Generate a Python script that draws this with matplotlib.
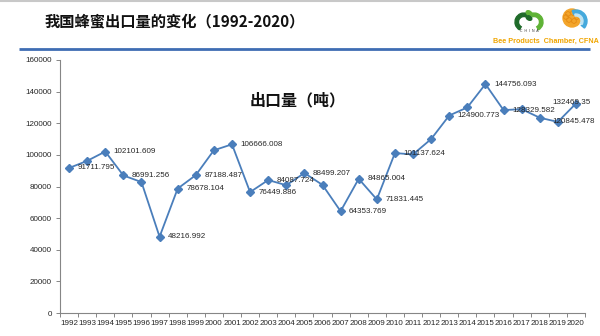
import matplotlib
matplotlib.use("Agg")
import matplotlib.pyplot as plt
from matplotlib.patches import Ellipse, RegularPolygon, Wedge, Circle
import numpy as np

plt.rcParams['font.family'] = ['Liberation Sans', 'Noto Sans CJK SC', 'DejaVu Sans']

# ---- data ----
years = list(range(1992, 2021))
export_tons = [91711.795, 96200, 102101.609, 86991.256, 82800, 48216.992, 78678.104,
               87188.487, 102900, 106666.008, 76449.886, 84087.724, 80800, 88499.207,
               81000, 64353.769, 84865.004, 71831.445, 101137.624, 100300, 110000,
               124900.773, 130000, 144756.093, 128329.582, 128900, 123500, 120845.478,
               132469.35]
labeled_years = [1992, 1994, 1995, 1997, 1998, 1999, 2001, 2002, 2003, 2005, 2007,
                 2008, 2009, 2010, 2013, 2015, 2016, 2019, 2020]
title = "我国蜂蜜出口量的变化（1992-2020）"
subtitle = "出口量（吨）"
brand = "Bee Products  Chamber, CFNA"

# label placement (pixel offsets, style only)
label_offsets = {2019: (-5, 0, 'left'), 2020: (-4, 1, 'center')}

W, H = 600, 336
fig = plt.figure(figsize=(6, 3.36), dpi=100)

# decoration overlay in pixel coords
deco = fig.add_axes([0, 0, 1, 1])
deco.set_xlim(0, W)
deco.set_ylim(H, 0)
deco.axis('off')
deco.plot([0, W], [0.5, 0.5], color='#c8c8c8', lw=1.5)
deco.plot([19, 590], [49.3, 49.3], color='#3f6db3', lw=2.0, solid_capstyle='butt')
deco.text(45, 21.5, title, fontsize=11, fontweight='bold', va='center', ha='left',
          family=['Noto Sans CJK SC'], color='#111111')
deco.text(250, 100, subtitle, fontsize=11.5, fontweight='bold', va='center', ha='left',
          family=['Noto Sans CJK SC'], color='#111111')
deco.text(599, 41, brand, fontsize=5.2, fontweight='bold', va='center', ha='right',
          color='#f0a500', family=['Liberation Sans Narrow', 'Liberation Sans'])
# green logo
deco.add_patch(Wedge((524, 22), 9, 120, 290, width=3.5, color='#1f6b2a'))
deco.add_patch(Wedge((534, 22), 9, -110, 60, width=3.5, color='#5fb336'))
deco.add_patch(Ellipse((529, 13), 6, 4, angle=30, color='#5fb336'))
deco.add_patch(Ellipse((529, 18), 6, 4, angle=30, color='#1f6b2a'))
deco.text(529, 31, "C  H  I  N  A", fontsize=2.5, ha='center', va='center', color='#333333')
# orange logo
deco.add_patch(Circle((572, 18), 9, color='#f3a52b'))
for (hx, hy) in [(568, 14), (573, 13), (577, 17), (569, 20), (574, 21), (566, 17)]:
    deco.add_patch(RegularPolygon((hx, hy), 6, radius=2.6, color='#e58a12', fill=False, lw=0.6))
deco.add_patch(Wedge((576, 21), 11, -110, 40, width=4, color='#45a9dc'))
deco.add_patch(Wedge((576, 21), 7, -100, 30, width=2, color='#bfe3f2'))

# main axes
ax = fig.add_axes([60 / W, 1 - 313 / H, 525 / W, 253 / H])
x = np.arange(len(years))
ax.plot(x, export_tons, color='#4a7ebb', lw=1.3, marker='D', markersize=3.8,
        markerfacecolor='#4a7ebb', markeredgecolor='#4a7ebb', zorder=3)

for yr in labeled_years:
    i = years.index(yr)
    v = export_tons[i]
    dx, dy, ha = label_offsets.get(yr, (8.5, 0, 'left'))
    txt = f"{v:.3f}".rstrip('0').rstrip('.') if yr == 2020 else f"{v:.3f}"
    ax.annotate(txt, (i, v), xytext=(dx * 0.72, dy * 0.72), textcoords='offset points',
                fontsize=5.8, ha=ha, va='center', color='#262626', zorder=4)

ax.set_xlim(-0.5, len(years) - 0.5)
ax.set_ylim(0, 160000)
ax.set_yticks(np.arange(0, 160001, 20000))
ax.set_yticklabels([str(v) for v in range(0, 160001, 20000)])
ax.set_xticks(x)
ax.set_xticklabels([str(y) for y in years])
ax.set_xticks(np.arange(-0.5, len(years), 1), minor=True)
ax.tick_params(axis='x', which='major', length=0, labelsize=5.8, pad=5, colors='#262626')
ax.tick_params(axis='x', which='minor', length=3, color='#868686', width=0.7)
ax.tick_params(axis='y', which='major', length=3, color='#868686', width=0.7,
               labelsize=5.8, labelcolor='#262626', pad=3)
for s in ['top', 'right']:
    ax.spines[s].set_visible(False)
for s in ['left', 'bottom']:
    ax.spines[s].set_color('#868686')
    ax.spines[s].set_linewidth(0.8)
ax.patch.set_alpha(0)

fig.savefig('out.png', dpi=100)
